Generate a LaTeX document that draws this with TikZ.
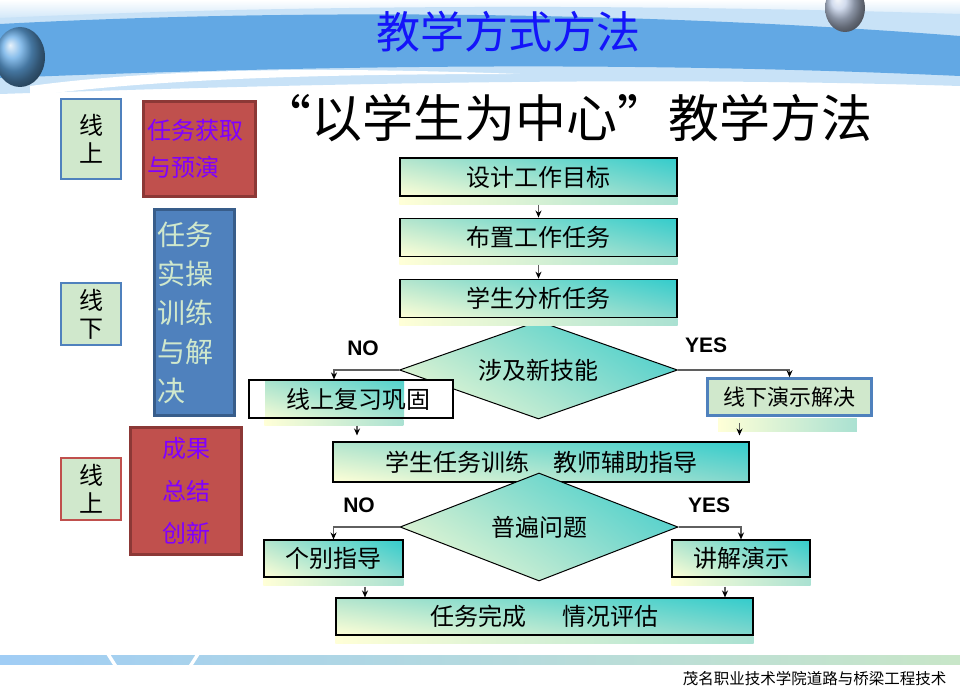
\documentclass[tikz,border=0pt]{standalone}
\usepackage{fontspec}
\setmainfont{Noto Sans CJK SC}
\newfontfamily\latfont{Liberation Sans}
\usetikzlibrary{arrows.meta,calc,positioning,shapes.geometric,shadings}
\definecolor{bandblue}{RGB}{98,168,228}
\definecolor{paleblue}{RGB}{200,226,247}
\definecolor{spheregray}{RGB}{195,208,232}
\definecolor{titleblue}{RGB}{20,20,250}
\definecolor{flowteal}{RGB}{51,204,204}
\definecolor{midteal}{RGB}{130,215,205}
\definecolor{midgreen}{RGB}{178,228,205}
\definecolor{paleyel}{RGB}{255,255,215}
\definecolor{stripteal}{RGB}{170,225,210}
\definecolor{palegreen}{RGB}{208,232,204}
\definecolor{boxblue}{RGB}{79,129,189}
\definecolor{darkblue}{RGB}{56,93,138}
\definecolor{boxred}{RGB}{192,80,77}
\definecolor{darkred}{RGB}{140,56,54}
\definecolor{txtpurple}{RGB}{128,0,255}
\definecolor{linegray}{RGB}{95,95,95}
\definecolor{footblue}{RGB}{160,205,245}
\definecolor{footgreen}{RGB}{200,230,200}

\begin{document}
\begin{tikzpicture}[x=1pt,y=-1pt,>=Stealth,node distance=20pt]
  \tikzset{
    tealshade/.style={shade,upper left=midgreen,upper right=flowteal,
                      lower left=paleyel,lower right=midteal},
    flow/.style={tealshade,draw=black,line width=1.1pt,inner sep=0pt,
                 minimum width=277pt,minimum height=38pt,
                 font=\fontsize{24}{24}\selectfont},
    choice/.style={diamond,aspect=2.8,tealshade,draw=black,line width=1pt,inner sep=0pt,
                   minimum width=278pt,minimum height=98pt,
                   font=\fontsize{24}{24}\selectfont},
    side/.style={draw=boxblue,line width=2.6pt,fill=palegreen,inner sep=0pt,
                 minimum width=60pt,align=center,font=\fontsize{24}{28}\selectfont},
    card/.style={draw=darkred,line width=3pt,fill=boxred,inner sep=0pt,
                 text=txtpurple},
    link/.style={draw=linegray,line width=1.3pt,
                 -{Stealth[length=7pt,width=6pt,color=black]}},
    yn/.style={font=\latfont\bfseries\fontsize{21}{21}\selectfont},
    strip/.style={left color=paleyel,right color=stripteal}
  }
  \useasboundingbox (0,0) rectangle (960,692);

  % header band
  \shade[top color=white,bottom color=paleblue] (0,0) rectangle (960,22);
  \fill[paleblue] (0,18) .. controls (300,4) and (650,4) .. (960,14)
    -- (960,86) .. controls (700,78) and (420,80) .. (0,94) -- cycle;
  \fill[bandblue] (0,24) .. controls (300,8) and (650,12) .. (960,36)
    -- (960,76) .. controls (650,62) and (350,64) .. (0,78) -- cycle;
  \fill[white] (30,86) .. controls (150,70) and (300,66) .. (520,74)
    .. controls (300,74) and (150,80) .. (30,96) -- cycle;
  \shade[ball color=bandblue] (20,57) ellipse (25 and 30);
  \shade[ball color=spheregray] (845,8) ellipse (20 and 24);
  \node[text=titleblue,font=\fontsize{44}{44}\selectfont] (title) at (508,32) {教学方式方法};

  % footer band
  \shade[left color=footblue,right color=footgreen] (0,655) rectangle (960,664);
  \fill[white] (106,654) -- (110,654) -- (117,665) -- (113,665) -- cycle;
  \fill[white] (196,654) -- (200,654) -- (193,665) -- (189,665) -- cycle;
  \node[anchor=east,font=\fontsize{15.5}{15.5}\selectfont] (foot) at (950,679)
    {茂名职业技术学院道路与桥梁工程技术};

  \node[anchor=west,font=\fontsize{51}{51}\selectfont] (head) at (257,118)
    {“以学生为中心”教学方法};

  % left column
  \node[side,minimum height=80pt] (s1) at (91,139) {线\\上};
  \node[side,minimum height=62pt] (s2) at (91,314) {线\\下};
  \node[side,draw=boxred,minimum height=62pt] (s3) at (91,489) {线\\上};
  \node[card,minimum width=112pt,minimum height=95pt,text width=104pt,align=left,
        font=\fontsize{24}{37}\selectfont] (t1) at (199.5,149) {任务获取\\与预演};
  \node[card,draw=darkblue,fill=boxblue,text=palegreen,minimum width=80pt,
        minimum height=206pt,text width=74pt,align=left,
        font=\fontsize{28}{39}\selectfont] (t2) at (194.5,312.5)
        {任务\\实操\\训练\\与解\\决};
  \node[card,minimum width=111pt,minimum height=127pt,align=center,
        font=\fontsize{24}{42.5}\selectfont] (t3) at (186,491) {成果\\总结\\创新};

  % flow chart
  \node[flow] (b1) at (538.5,177) {设计工作目标};
  \node[flow,below=21pt of b1] (b2) {布置工作任务};
  \node[flow,below=22pt of b2] (b3) {学生分析任务};
  \node[choice] (d1) at (538.5,370) {涉及新技能};
  \node[draw=black,line width=1.1pt,fill=white,inner sep=0pt,
        minimum width=204pt,minimum height=38pt,font=\fontsize{24}{24}\selectfont,
        path picture={\shade[upper left=midgreen,upper right=flowteal,
                             lower left=paleyel,lower right=midteal]
          ([xshift=16pt]path picture bounding box.south west) rectangle
          ([xshift=155pt]path picture bounding box.north west);}]
        (r1) at (351,399) {\hspace{14pt}线上复习巩固};
  \node[side,minimum width=164pt,minimum height=37pt,
        font=\fontsize{22}{22}\selectfont] (r2) at (789.5,397) {线下演示解决};
  \node[flow,minimum width=416pt,minimum height=40pt] (b5) at (541,462)
    {学生任务训练\hspace{24pt}教师辅助指导};
  \node[choice,minimum height=108pt] (d2) at (539,527) {普遍问题};
  \node[flow,minimum width=139pt,minimum height=37pt] (c1) at (333.5,558.5) {个别指导};
  \node[flow,minimum width=138pt,minimum height=37pt] (c2) at (741,558.5) {讲解演示};
  \node[flow,minimum width=417pt,minimum height=37pt] (b8) at (544.5,616.5)
    {任务完成\hspace{36pt}情况评估};

  % strips under the boxes
  \foreach \n in {b1,b2,b3,c1,c2,b8}
    \shade[strip] ([yshift=-0.55pt]\n.south west) rectangle ([yshift=-8pt]\n.south east);
  \shade[strip] ([xshift=16pt,yshift=-0.55pt]r1.south west) rectangle ([xshift=155pt,yshift=-7pt]r1.south west);
  \shade[strip] ([xshift=12pt,yshift=-1.3pt]r2.south west) rectangle ([xshift=-16pt,yshift=-15pt]r2.south east);

  % connectors
  \draw[link] ([yshift=-8pt]b1.south) -- (b2.north);
  \draw[link] ([yshift=-8pt]b2.south) -- (b3.north);
  \draw[link] (d1.west) -| ([xshift=-17pt]r1.north);
  \draw[link] (d1.east) -| (r2.north);
  \draw[link] ([xshift=6pt,yshift=-7pt]r1.south) -- ([xshift=6pt,yshift=6pt]r1.south |- b5.north);
  \draw[link] ([xshift=-50pt,yshift=-6pt]r2.south) -- ([xshift=-50pt,yshift=6pt]r2.south |- b5.north);
  \draw[link] (d2.west) -| (c1.north);
  \draw[link] (d2.east) -| (c2.north);
  \draw[link] ([xshift=31.5pt,yshift=-9pt]c1.south) -- ([xshift=31.5pt]c1.south |- b8.north);
  \draw[link] ([xshift=-16pt,yshift=-9pt]c2.south) -- ([xshift=-16pt]c2.south |- b8.north);

  \node[yn] (no1) at (363,348) {NO};
  \node[yn] (yes1) at (706,345) {YES};
  \node[yn] (no2) at (359,505) {NO};
  \node[yn] (yes2) at (709,505) {YES};
\end{tikzpicture}
\end{document}
